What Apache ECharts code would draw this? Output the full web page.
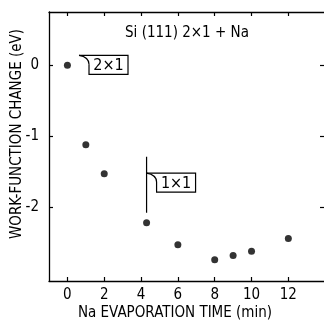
<!DOCTYPE html>
<html>
<head>
<meta charset="utf-8">
<script src="https://cdn.jsdelivr.net/npm/echarts@6/dist/echarts.min.js"></script>
<style>
  html, body { margin: 0; padding: 0; background: #fff; }
  #chart { width: 324px; height: 322px; }
</style>
</head>
<body>
<div id="chart"></div>
<script>
const timeMin = [0, 1, 2, 4.3, 6, 8, 9, 10, 12];
const workFn = [0, -1.12, -1.53, -2.22, -2.53, -2.74, -2.68, -2.62, -2.44];
const xTicks = [0, 2, 4, 6, 8, 10, 12];
const yTicks = [0, -1, -2];
// surface phase flags: [x, y, label]
const phases = [[0.63, 0.14, '2×1'], [4.3, -1.52, '1×1']];
const phaseLine = [[4.3, -1.29], [4.3, -2.08]];

const FONT = '"DejaVu Sans Condensed", "DejaVu Sans", sans-serif';
const INK = '#000';

const chart = echarts.init(document.getElementById('chart'), null, { renderer: 'canvas' });

function xAxisOpt(pos) {
  return {
    type: 'value', position: pos, min: -1, max: 14.1,
    axisLine: { show: true, onZero: false, lineStyle: { color: INK, width: 1.3 } },
    axisTick: { show: true, inside: true, length: 4, customValues: xTicks, lineStyle: { color: INK, width: 1.2 } },
    axisLabel: { show: pos === 'bottom', customValues: xTicks, margin: 7, color: INK, fontSize: 15, fontFamily: FONT },
    splitLine: { show: false }
  };
}
function yAxisOpt(pos) {
  return {
    type: 'value', position: pos, min: -3.04, max: 0.75,
    // the right frame edge lies just outside the picture
    axisLine: { show: pos === 'left', onZero: false, lineStyle: { color: INK, width: 1.3 } },
    axisTick: { show: true, inside: true, length: pos === 'left' ? 4 : 7, customValues: yTicks, lineStyle: { color: INK, width: 1.2 } },
    axisLabel: { show: pos === 'left', customValues: yTicks, margin: 10, color: INK, fontSize: 15, fontFamily: FONT },
    splitLine: { show: false }
  };
}

const option = {
  backgroundColor: '#fff',
  animation: false,
  grid: { left: 49, top: 12, width: 278, height: 269, containLabel: false, outerBoundsMode: 'none' },
  xAxis: [xAxisOpt('bottom'), xAxisOpt('top')],
  yAxis: [yAxisOpt('left'), yAxisOpt('right')],
  graphic: [
    { type: 'text', style: { text: 'Si (111) 2×1 + Na', x: 187, y: 33, align: 'center', verticalAlign: 'middle', font: '15px ' + FONT, fill: INK } },
    { type: 'text', style: { text: 'Na EVAPORATION TIME (min)', x: 175, y: 313, align: 'center', verticalAlign: 'middle', font: '15px ' + FONT, fill: INK } },
    { type: 'text', rotation: Math.PI / 2, x: 17, y: 134, style: { text: 'WORK-FUNCTION CHANGE (eV)', x: 0, y: 0, align: 'center', verticalAlign: 'middle', font: '15px ' + FONT, fill: INK } }
  ],
  series: [
    {
      type: 'scatter', data: timeMin.map((t, i) => [t, workFn[i]]),
      symbol: 'circle', symbolSize: 7, itemStyle: { color: INK }, silent: true
    },
    {
      type: 'line', data: phaseLine, symbol: 'none', silent: true,
      lineStyle: { color: INK, width: 1.2 }
    },
    {
      type: 'custom', silent: true, clip: false,
      data: phases.map(p => [p[0], p[1]]),
      renderItem(params, api) {
        const p = api.coord([api.value(0), api.value(1)]);
        const x = p[0], y = p[1];
        const w = 49, h = 19, c = 10;
        const st = { fill: null, stroke: INK, lineWidth: 1.2 };
        return {
          type: 'group',
          children: [
            { type: 'polyline', shape: { points: [[x + c, y + 9], [x + c, y + h], [x + w, y + h], [x + w, y], [x, y]] }, style: st },
            { type: 'bezierCurve', shape: { x1: x, y1: y, cpx1: x + 6, cpy1: y + 1, cpx2: x + c, cpy2: y + 4, x2: x + c, y2: y + 9 }, style: st },
            { type: 'text', style: { text: phases[params.dataIndex][2], x: x + c + (w - c) / 2, y: y + h / 2 + 1, align: 'center', verticalAlign: 'middle', font: '16px ' + FONT, fill: INK } }
          ]
        };
      }
    }
  ]
};
chart.setOption(option);
</script>
</body>
</html>
